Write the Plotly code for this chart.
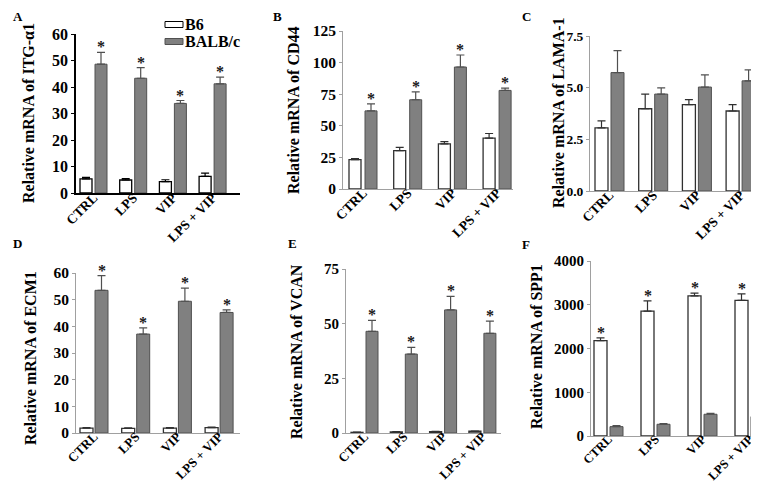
import plotly.graph_objects as go

W, H = 759, 482
categories = ["CTRL", "LPS", "VIP", "LPS + VIP"]
series_names = ["B6", "BALB/c"]

# Panel A: ITG-alpha1
itg_b6 = [5.3, 4.9, 4.3, 6.3]
itg_b6_err = [0.6, 0.5, 0.7, 1.2]
itg_balb = [48.6, 43.3, 33.8, 41.2]
itg_balb_err = [4.5, 4.0, 1.1, 2.5]
# Panel B: CD44
cd44_b6 = [23.3, 30.4, 35.7, 40.2]
cd44_b6_err = [0.7, 2.6, 1.8, 3.7]
cd44_balb = [61.8, 70.6, 96.5, 78.0]
cd44_balb_err = [5.6, 6.3, 9.5, 1.8]
# Panel C: LAMA-1
lama_b6 = [3.05, 3.98, 4.18, 3.87]
lama_b6_err = [0.34, 0.71, 0.24, 0.31]
lama_balb = [5.73, 4.69, 5.03, 5.33]
lama_balb_err = [1.06, 0.30, 0.59, 0.53]
# Panel D: ECM1
ecm_b6 = [1.8, 1.7, 1.8, 2.0]
ecm_b6_err = [0.2, 0.2, 0.2, 0.2]
ecm_balb = [53.5, 37.1, 49.4, 45.2]
ecm_balb_err = [5.5, 2.3, 4.9, 1.0]
# Panel E: VCAN
vcan_b6 = [0.3, 0.5, 0.6, 0.8]
vcan_b6_err = [0.1, 0.1, 0.2, 0.1]
vcan_balb = [46.5, 36.1, 56.3, 45.6]
vcan_balb_err = [5.0, 3.1, 6.2, 5.6]
# Panel F: SPP1
spp1_b6 = [2180, 2853, 3205, 3098]
spp1_b6_err = [61, 237, 61, 152]
spp1_balb = [214, 268, 497, 444]
spp1_balb_err = [23, 15, 23, 15]

y_titles = ["Relative mRNA of ITG-α1", "Relative mRNA of CD44", "Relative mRNA of LAMA-1",
            "Relative mRNA of ECM1", "Relative mRNA of VCAN", "Relative mRNA of SPP1"]
y_ticks = [[0, 10, 20, 30, 40, 50, 60], [0, 25, 50, 75, 100, 125], [0, 2.5, 5.0, 7.5],
           [0, 10, 20, 30, 40, 50, 60], [0, 25, 50, 75], [0, 1000, 2000, 3000, 4000]]
panel_letters = ["A", "B", "C", "D", "E", "F"]

data = [
    (itg_b6, itg_b6_err, itg_balb, itg_balb_err, "balb"),
    (cd44_b6, cd44_b6_err, cd44_balb, cd44_balb_err, "balb"),
    (lama_b6, lama_b6_err, lama_balb, lama_balb_err, None),
    (ecm_b6, ecm_b6_err, ecm_balb, ecm_balb_err, "balb"),
    (vcan_b6, vcan_b6_err, vcan_balb, vcan_balb_err, "balb"),
    (spp1_b6, spp1_b6_err, spp1_balb, spp1_balb_err, "b6"),
]

# layout geometry (pixels)
geo = [
    dict(x0=68, x1=232, ytop=26, y0=185, s=39.7, c0=85.5, bw=12, gap=3, col="#000000", lw=1.5, fs=16, xfs=13.5),
    dict(x0=335, x1=505, ytop=23, y0=181, s=44.7, c0=355, bw=12, gap=4, col="#a0a0a0", lw=1, fs=15.5, xfs=13.5),
    dict(x0=582, x1=752, ytop=28, y0=183, s=43.7, c0=601.5, bw=13, gap=3, col="#a0a0a0", lw=1, fs=13.5, xfs=13.5),
    dict(x0=68, x1=232, ytop=265, y0=425, s=41.7, c0=86, bw=13, gap=2, col="#a0a0a0", lw=1, fs=15.5, xfs=13),
    dict(x0=338, x1=493, ytop=261, y0=425, s=39.3, c0=356.5, bw=12, gap=3, col="#a0a0a0", lw=1, fs=15, xfs=13),
    dict(x0=583, x1=759, ytop=253, y0=428, s=47, c0=600.5, bw=13, gap=3, col="#a0a0a0", lw=1, fs=15, xfs=12.5),
]
title_pos = [(20, 105), (285, 102), (550, 105), (22, 350), (288, 344), (528, 339)]
letter_pos = [(3, 8), (263, 8), (512, 8), (3, 235), (278, 235), (512, 236)]

FONT = "Liberation Serif"
fig = go.Figure()
xpos = list(range(len(categories)))
b6_line = ["#000000", "#303030", "#303030", "#303030", "#303030", "#303030"]
balb_line = "#505050"
balb_fill = "#808080"

layout = dict(width=W, height=H, margin=dict(l=0, r=0, t=0, b=0, autoexpand=False),
              template="none",
              paper_bgcolor="white", plot_bgcolor="white", barmode="overlay",
              font=dict(family=FONT, size=14, color="black", weight="bold"),
              showlegend=False)
annotations = []
shapes = []

for i, (b6, b6e, ba, bae, star) in enumerate(data):
    g = geo[i]
    k = "" if i == 0 else str(i + 1)
    xa, ya = "x" + k, "y" + k
    w = g["bw"] / g["s"]
    gp = g["gap"] / g["s"]
    fig.add_trace(go.Bar(x=xpos, y=b6, width=w, offset=-w - gp / 2, xaxis=xa, yaxis=ya,
                         name=series_names[0],
                         marker=dict(color="white", line=dict(color=b6_line[i], width=1.3)),
                         error_y=dict(type="data", symmetric=False, array=b6e,
                                      arrayminus=[0] * len(b6e), color=b6_line[i],
                                      thickness=1.2, width=4)))
    fig.add_trace(go.Bar(x=xpos, y=ba, width=w, offset=gp / 2, xaxis=xa, yaxis=ya,
                         name=series_names[1],
                         marker=dict(color=balb_fill, line=dict(color=balb_line, width=1)),
                         error_y=dict(type="data", symmetric=False, array=bae,
                                      arrayminus=[0] * len(bae), color=balb_line,
                                      thickness=1.2, width=4)))
    if star:
        if star == "balb":
            vals, errs, sx = ba, bae, [x + gp / 2 + w / 2 for x in xpos]
        else:
            vals, errs, sx = b6, b6e, [x - gp / 2 - w / 2 for x in xpos]
        for xv, v, e in zip(sx, vals, errs):
            annotations.append(dict(text="*", x=xv, y=v + e, xref=xa, yref=ya, showarrow=False,
                                    xanchor="center", yanchor="bottom", yshift=-5,
                                    font=dict(family=FONT, size=16, color="#1a1a1a", weight="bold")))
    r0 = -(g["c0"] - g["x0"]) / g["s"]
    r1 = r0 + (g["x1"] - g["x0"]) / g["s"]
    ymax = y_ticks[i][-1]
    layout["xaxis" + k] = dict(domain=[g["x0"] / W, g["x1"] / W], range=[r0, r1], anchor=ya,
                               tickvals=xpos, ticktext=categories, tickangle=-45,
                               showline=True, linecolor=g["col"], linewidth=g["lw"],
                               ticks="", showgrid=False, zeroline=False, automargin=False,
                               ticklabelstandoff=-10,
                               tickfont=dict(family=FONT, size=g["xfs"], color="black", weight="bold"))
    layout["yaxis" + k] = dict(domain=[1 - g["y0"] / H, 1 - g["ytop"] / H], range=[0, ymax],
                               anchor=xa, tickvals=y_ticks[i],
                               tickformat=".1f" if i == 2 else "d",
                               showline=True, linecolor=g["col"], linewidth=g["lw"],
                               ticks="outside", ticklen=3, tickcolor=g["col"],
                               showgrid=False, zeroline=False, automargin=False,
                               tickfont=dict(family=FONT, size=g["fs"], color="black", weight="bold"))
    tx, ty = title_pos[i]
    annotations.append(dict(text=y_titles[i], x=tx / W, y=1 - ty / H, xref="paper", yref="paper",
                            textangle=-90, showarrow=False, xanchor="center", yanchor="middle",
                            font=dict(family=FONT, size=16, color="black", weight="bold")))
    lx, ly = letter_pos[i]
    annotations.append(dict(text=panel_letters[i], x=lx / W, y=1 - ly / H, xref="paper", yref="paper",
                            showarrow=False, xanchor="left", yanchor="middle",
                            font=dict(family=FONT, size=13, color="black", weight="bold")))

# legend (panel A)
legend_items = [(series_names[0], "white", "#000000", 16.5), (series_names[1], balb_fill, balb_line, 33.5)]
for name, fill, line, yc in legend_items:
    shapes.append(dict(type="rect", xref="paper", yref="paper",
                       x0=157 / W, x1=175 / W, y0=1 - (yc + 3) / H, y1=1 - (yc - 3) / H,
                       fillcolor=fill, line=dict(color=line, width=1)))
    annotations.append(dict(text=name, x=176 / W, y=1 - yc / H, xref="paper", yref="paper",
                            showarrow=False, xanchor="left", yanchor="middle", borderpad=0,
                            font=dict(family=FONT, size=16, color="black", weight="bold")))

layout["annotations"] = annotations
layout["shapes"] = shapes
fig.update_layout(**layout)
fig.write_html("out.html")
